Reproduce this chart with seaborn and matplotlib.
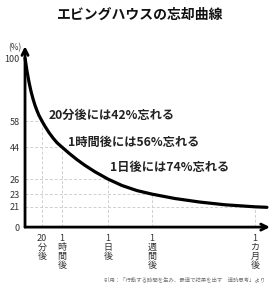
import matplotlib.pyplot as plt
import seaborn as sns

sns.set_style("white")
plt.rcParams["font.family"] = ["Noto Sans CJK JP", "DejaVu Sans"]

# --------------------------------------------------------------
# Data (schematic forgetting curve)
# --------------------------------------------------------------
curve_x = [0, 2, 4, 6, 8, 10, 12, 14, 17, 20, 24, 28, 32, 37, 44, 52, 60, 70,
           83, 97, 112, 127, 150, 175, 200, 230, 242]
curve_y = [100, 92.2, 85.7, 80.3, 75.8, 72.0, 68.8, 66.0, 62.7, 59.6, 55.9, 52.7,
           49.9, 47.3, 43.7, 39.9, 36.5, 32.7, 28.4, 24.6, 21.6, 19.5, 16.9, 14.8,
           13.2, 12.0, 11.7]

time_labels = ["20\n分\n後", "1\n時\n間\n後", "1\n日\n後", "1\n週\n間\n後", "1\nカ\n月\n後"]
time_pos = [17, 37, 83, 127, 230]

pct_labels = ["0", "21", "23", "26", "44", "58", "100"]
pct_pos = [0, 12.0, 19.5, 28.4, 47.3, 62.7, 100]

# retention level reached at each time tick
retained_pos = [62.7, 47.3, 28.4, 19.5, 12.0]

notes = ["20分後には42%忘れる", "1時間後には56%忘れる", "1日後には74%忘れる"]
note_x = [24, 43, 85]
note_y = [65.9, 50.2, 35.2]

# --------------------------------------------------------------
# Plot
# --------------------------------------------------------------
fig = plt.figure(figsize=(2.78, 3.0), dpi=100)
ax = fig.add_axes([0.09, 0.243, 0.881, 0.603])

# dashed guides from the axes to the curve
for tx, ty in zip(time_pos, retained_pos):
    ax.vlines(tx, 0, ty, colors="#cfcfcf", linestyles=(0, (3, 2)), lw=0.7)
    ax.hlines(ty, 0, tx, colors="#cfcfcf", linestyles=(0, (3, 2)), lw=0.7)

sns.lineplot(x=curve_x, y=curve_y, ax=ax, color="black", linewidth=2.3)
ax.lines[-1].set_clip_on(False)
ax.lines[-1].set_solid_joinstyle("round")

ax.set_xlim(0, 245)
ax.set_ylim(0, 107)

for s in ax.spines.values():
    s.set_visible(False)

arrow = dict(arrowstyle="->", lw=2, color="black", shrinkA=0, shrinkB=0, mutation_scale=11)
ax.annotate("", xy=(1, 0), xytext=(0, 0), xycoords="axes fraction", arrowprops=arrow)
ax.annotate("", xy=(0, 1), xytext=(0, 0), xycoords="axes fraction", arrowprops=arrow)

ax.set_yticks(pct_pos, pct_labels, fontsize=6.5, color="#333333")
ax.set_xticks(time_pos, time_labels, fontsize=6.5, color="#333333", linespacing=1.0)
ax.tick_params(length=0)
ax.tick_params(axis="y", pad=4)
ax.tick_params(axis="x", pad=5)

ax.text(-4, 106, "(%)", fontsize=6, color="#333333", ha="right", va="center")

for t, x, y in zip(notes, note_x, note_y):
    ax.text(x, y, t, fontsize=8.8, fontweight="bold", color="#222222", ha="left", va="center")

fig.text(0.503, 0.95, "エビングハウスの忘却曲線", fontsize=10, fontweight="bold",
         ha="center", va="center", color="#111111")
fig.text(0.953, 0.07, "引用：「行動する時間を生み、最速で結果を出す　速読思考」より",
         fontsize=3.9, color="#777777", ha="right", va="center")

plt.savefig("out.png", dpi=100)
